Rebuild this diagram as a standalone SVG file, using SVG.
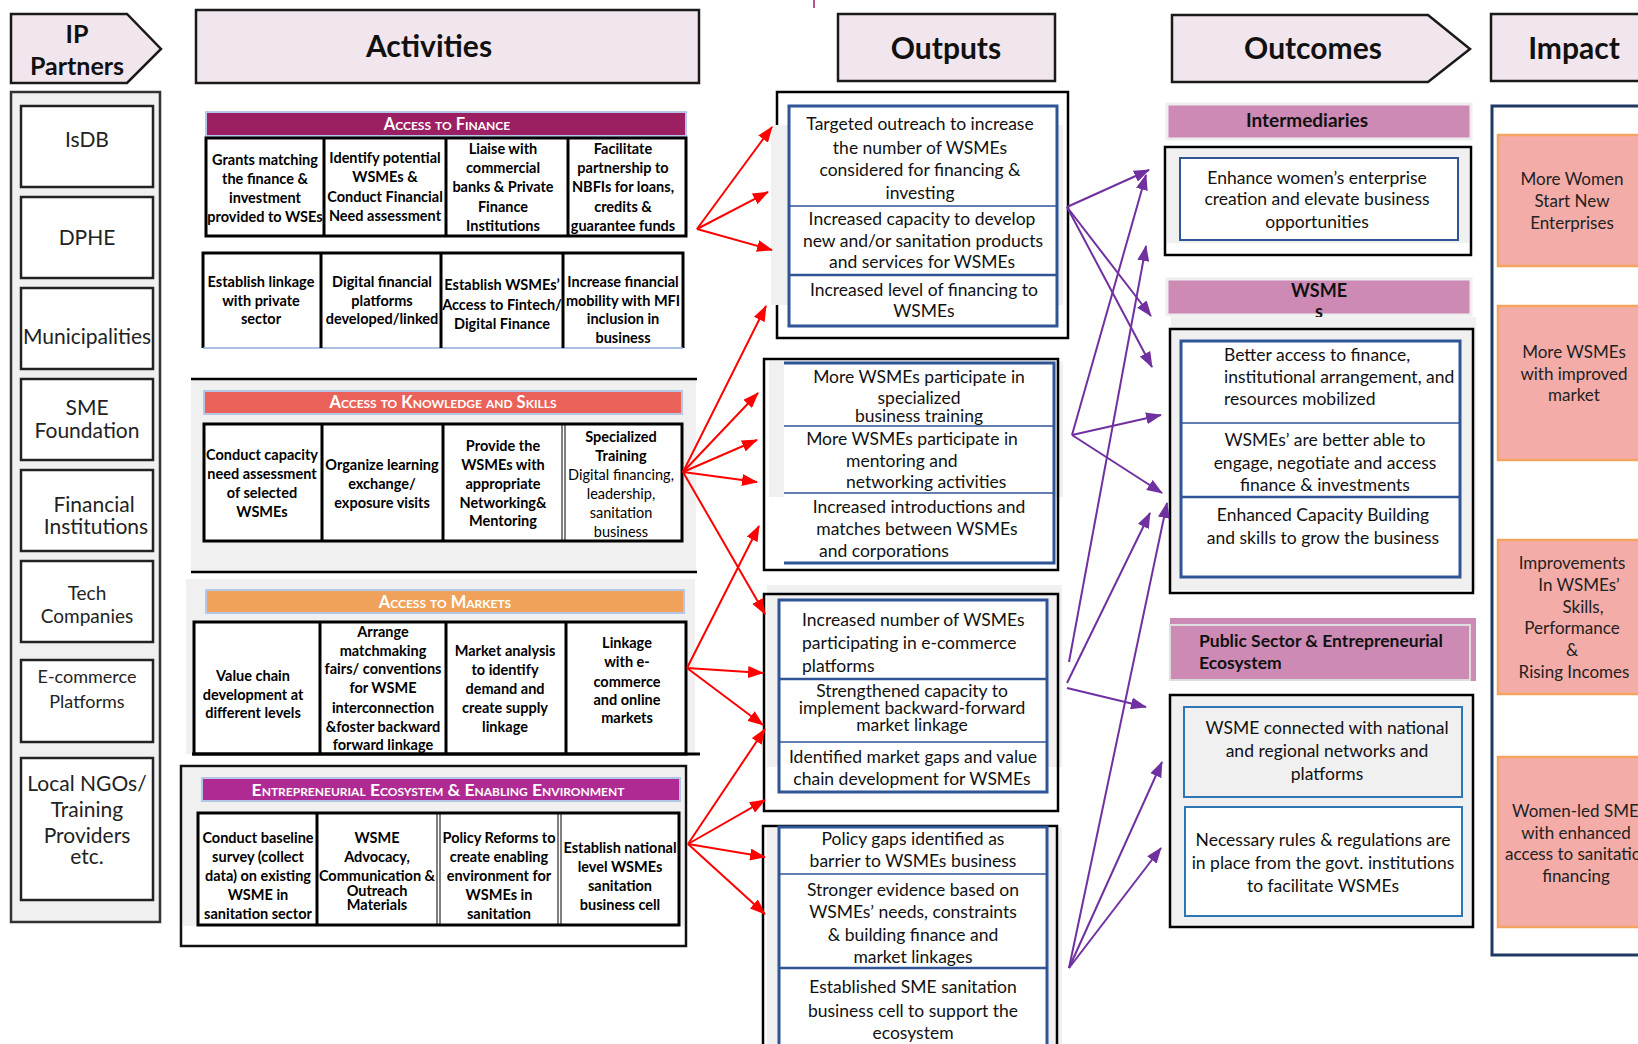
<svg xmlns="http://www.w3.org/2000/svg" width="1638" height="1044" viewBox="0 0 1638 1044">
<defs>
<marker id="ar" markerUnits="userSpaceOnUse" markerWidth="16" markerHeight="12" refX="15" refY="6" orient="auto"><path d="M0,0 L16,6 L0,12 z" fill="#FF0000"/></marker>
<marker id="ap" markerUnits="userSpaceOnUse" markerWidth="16" markerHeight="12" refX="15" refY="6" orient="auto"><path d="M0,0 L16,6 L0,12 z" fill="#7030A0"/></marker>
<style>
.hdr{fill:#F2E6EE;stroke:#1a1a1a;stroke-width:2.5}
.ht{font-family:Lato,"Liberation Sans",sans-serif;font-weight:bold;font-size:30px;fill:#111;text-anchor:middle}
.pbox{fill:#fff;stroke:#222;stroke-width:2.5}
.pt{font-family:Lato,"Liberation Sans",sans-serif;font-size:21px;fill:#222;text-anchor:middle}
.tbl{fill:#fff;stroke:#000;stroke-width:3}
.dv{stroke:#000;stroke-width:3}
.dd{stroke:#000;stroke-width:1}
.ct{font-family:Lato,"Liberation Sans",sans-serif;font-weight:bold;font-size:14.5px;fill:#000;text-anchor:middle}
.cr{font-weight:normal}
.bt{font-family:Lato,"Liberation Sans",sans-serif;font-weight:bold;font-size:16.5px;fill:#fff;text-anchor:middle;font-variant:small-caps}
.barb{stroke:#B4C7E7;stroke-width:2}
.gray{fill:#F0F0F0}
.blue{fill:#fff;stroke:#2F5597;stroke-width:3}
.bl{stroke:#2F5597;stroke-width:1.5}
.ot{font-family:Lato,"Liberation Sans",sans-serif;font-size:17.5px;fill:#111;text-anchor:middle}
.ol{text-anchor:start}
.obar{fill:#CC8AB4}
.obt{font-family:Lato,"Liberation Sans",sans-serif;font-weight:bold;font-size:18px;fill:#111;text-anchor:middle}
.imp{fill:#F4ACA8;stroke:#F4A460;stroke-width:2.5}
.it{font-family:Lato,"Liberation Sans",sans-serif;font-size:17px;fill:#222;text-anchor:middle}
.red{stroke:#FF0000;stroke-width:2;fill:none;marker-end:url(#ar)}
.pur{stroke:#7030A0;stroke-width:2;fill:none;marker-end:url(#ap)}
</style>
</defs>
<rect width="1638" height="1044" fill="#fff"/>
<line x1="814" y1="0" x2="814" y2="8" stroke="#9B1F62" stroke-width="1.5"/>

<!-- Column headers -->
<g id="hdr-ip">
<path class="hdr" d="M11,14 H127 L161,49 L127,83 H11 Z"/>
<text class="ht" style="font-size:25px" x="77" y="43">IP</text>
<text class="ht" style="font-size:25px" x="77" y="75">Partners</text>
</g>
<g id="hdr-activities">
<rect class="hdr" x="196" y="10" width="503" height="73"/>
<text class="ht" x="429" y="57">Activities</text>
</g>
<g id="hdr-outputs">
<rect class="hdr" x="838" y="14" width="217" height="67"/>
<text class="ht" x="946" y="59">Outputs</text>
</g>
<g id="hdr-outcomes">
<path class="hdr" d="M1172,15 H1428 L1470,49 L1428,82 H1172 Z"/>
<text class="ht" x="1313" y="59">Outcomes</text>
</g>
<g id="hdr-impact">
<rect class="hdr" x="1491" y="14" width="160" height="67"/>
<text class="ht" x="1574" y="59">Impact</text>
</g>

<!-- IP Partners -->
<g id="partners">
<rect x="11" y="92" width="149" height="830" fill="#F0F0F0" stroke="#333" stroke-width="2.5"/>
<g id="p-isdb"><rect class="pbox" x="21" y="106" width="132" height="81"/><text class="pt" x="87" y="147">IsDB</text></g>
<g id="p-dphe"><rect class="pbox" x="21" y="197" width="132" height="81"/><text class="pt" x="87" y="245">DPHE</text></g>
<g id="p-muni"><rect class="pbox" x="21" y="288" width="132" height="81"/><text class="pt" x="87" y="344">Municipalities</text></g>
<g id="p-sme"><rect class="pbox" x="21" y="379" width="132" height="81"/><text class="pt" x="87" y="415">SME</text><text class="pt" x="87" y="438">Foundation</text></g>
<g id="p-fin"><rect class="pbox" x="21" y="470" width="132" height="81"/><text class="pt" x="94" y="512">Financial</text><text class="pt" x="96" y="534">Institutions</text></g>
<g id="p-tech"><rect class="pbox" x="21" y="561" width="132" height="81"/><text class="pt" style="font-size:19px" x="87" y="600">Tech</text><text class="pt" style="font-size:19px" x="87" y="623">Companies</text></g>
<g id="p-ecom"><rect class="pbox" x="21" y="660" width="132" height="82"/><text class="pt" style="font-size:18px" x="87" y="683">E-commerce</text><text class="pt" style="font-size:18px" x="87" y="708">Platforms</text></g>
<g id="p-ngo"><rect class="pbox" x="21" y="758" width="132" height="142"/><text class="pt" x="87" y="791">Local NGOs/</text><text class="pt" x="87" y="817">Training</text><text class="pt" x="87" y="843">Providers</text><text class="pt" x="87" y="864">etc.</text></g>
</g>

<!-- Activities: Access to Finance -->
<g id="act-finance">
<rect x="206" y="112" width="480" height="24" fill="#9B1F62" class="barb"/>
<text class="bt" x="447" y="130">Access to Finance</text>
<rect class="tbl" x="206" y="138" width="480" height="98"/>
<line class="dv" x1="324" y1="138" x2="324" y2="236"/>
<line class="dv" x1="446" y1="138" x2="446" y2="236"/>
<line class="dv" x1="568" y1="138" x2="568" y2="236"/>
<text class="ct"><tspan x="265" y="165">Grants matching</tspan><tspan x="265" y="184">the finance &amp;</tspan><tspan x="265" y="203">investment</tspan><tspan x="265" y="222">provided to WSEs</tspan></text>
<text class="ct"><tspan x="385" y="163">Identify potential</tspan><tspan x="385" y="182">WSMEs &amp;</tspan><tspan x="385" y="202">Conduct Financial</tspan><tspan x="385" y="221">Need assessment</tspan></text>
<text class="ct"><tspan x="503" y="154">Liaise with</tspan><tspan x="503" y="173">commercial</tspan><tspan x="503" y="192">banks &amp; Private</tspan><tspan x="503" y="212">Finance</tspan><tspan x="503" y="231">Institutions</tspan></text>
<text class="ct"><tspan x="623" y="154">Facilitate</tspan><tspan x="623" y="173">partnership to</tspan><tspan x="623" y="192">NBFIs for loans,</tspan><tspan x="623" y="212">credits &amp;</tspan><tspan x="623" y="231">guarantee funds</tspan></text>
<rect x="203" y="253" width="480" height="95" fill="#fff"/>
<path d="M203,348 V253 H683 V348" fill="none" stroke="#000" stroke-width="3"/>
<line x1="203" y1="348" x2="683" y2="348" stroke="#8FAADC" stroke-width="1.5"/>
<line class="dv" x1="321" y1="253" x2="321" y2="348"/>
<line class="dv" x1="441" y1="253" x2="441" y2="348"/>
<line class="dv" x1="563" y1="253" x2="563" y2="348"/>
<text class="ct"><tspan x="261" y="287">Establish linkage</tspan><tspan x="261" y="306">with private</tspan><tspan x="261" y="324">sector</tspan></text>
<text class="ct"><tspan x="382" y="287">Digital financial</tspan><tspan x="382" y="306">platforms</tspan><tspan x="382" y="324">developed/linked</tspan></text>
<text class="ct"><tspan x="502" y="290">Establish WSMEs’</tspan><tspan x="502" y="310">Access to Fintech/</tspan><tspan x="502" y="329">Digital Finance</tspan></text>
<text class="ct"><tspan x="623" y="287">Increase financial</tspan><tspan x="623" y="306">mobility with MFI</tspan><tspan x="623" y="324">inclusion in</tspan><tspan x="623" y="343">business</tspan></text>
</g>

<!-- Activities: Knowledge -->
<g id="act-knowledge">
<rect class="gray" x="191" y="380" width="505" height="192"/>
<line x1="191" y1="379" x2="697" y2="379" stroke="#000" stroke-width="2.5"/>
<line x1="191" y1="572" x2="697" y2="572" stroke="#000" stroke-width="2.5"/>
<rect x="204" y="391" width="478" height="23" fill="#EA6259" class="barb"/>
<text class="bt" x="443" y="408">Access to Knowledge and Skills</text>
<rect class="tbl" x="204" y="424" width="478" height="117"/>
<line class="dv" x1="322" y1="424" x2="322" y2="541"/>
<line class="dv" x1="443" y1="424" x2="443" y2="541"/>
<line class="dd" x1="562" y1="424" x2="562" y2="541"/>
<line class="dd" x1="565" y1="424" x2="565" y2="541"/>
<text class="ct"><tspan x="262" y="460">Conduct capacity</tspan><tspan x="262" y="479">need assessment</tspan><tspan x="262" y="498">of selected</tspan><tspan x="262" y="517">WSMEs</tspan></text>
<text class="ct"><tspan x="382" y="470">Organize learning</tspan><tspan x="382" y="489">exchange/</tspan><tspan x="382" y="508">exposure visits</tspan></text>
<text class="ct"><tspan x="503" y="451">Provide the</tspan><tspan x="503" y="470">WSMEs with</tspan><tspan x="503" y="489">appropriate</tspan><tspan x="503" y="508">Networking&amp;</tspan><tspan x="503" y="526">Mentoring</tspan></text>
<text class="ct"><tspan x="621" y="442">Specialized</tspan><tspan x="621" y="461">Training</tspan><tspan class="cr" x="621" y="480">Digital financing,</tspan><tspan class="cr" x="621" y="499">leadership,</tspan><tspan class="cr" x="621" y="518">sanitation</tspan><tspan class="cr" x="621" y="537">business</tspan></text>
</g>

<!-- Activities: Markets -->
<g id="act-markets">
<rect class="gray" x="186" y="579" width="509" height="175"/>
<rect x="206" y="590" width="478" height="23" fill="#F0A25A" class="barb"/>
<text class="bt" x="445" y="608">Access to Markets</text>
<rect class="tbl" x="194" y="622" width="492" height="132"/>
<line x1="192" y1="754" x2="700" y2="754" stroke="#000" stroke-width="3"/>
<line class="dv" x1="320" y1="622" x2="320" y2="754"/>
<line class="dv" x1="446" y1="622" x2="446" y2="754"/>
<line class="dv" x1="566" y1="622" x2="566" y2="754"/>
<text class="ct"><tspan x="253" y="681">Value chain</tspan><tspan x="253" y="700">development at</tspan><tspan x="253" y="718">different levels</tspan></text>
<text class="ct"><tspan x="383" y="637">Arrange</tspan><tspan x="383" y="656">matchmaking</tspan><tspan x="383" y="674">fairs/ conventions</tspan><tspan x="383" y="693">for WSME</tspan><tspan x="383" y="713">interconnection</tspan><tspan x="383" y="732">&amp;foster backward</tspan><tspan x="383" y="750">forward linkage</tspan></text>
<text class="ct"><tspan x="505" y="656">Market analysis</tspan><tspan x="505" y="675">to identify</tspan><tspan x="505" y="694">demand and</tspan><tspan x="505" y="713">create supply</tspan><tspan x="505" y="732">linkage</tspan></text>
<text class="ct"><tspan x="627" y="648">Linkage</tspan><tspan x="627" y="667">with e-</tspan><tspan x="627" y="687">commerce</tspan><tspan x="627" y="705">and online</tspan><tspan x="627" y="723">markets</tspan></text>
</g>

<!-- Activities: Ecosystem -->
<g id="act-ecosystem">
<rect x="181" y="766" width="505" height="180" fill="#fff"/>
<rect class="gray" x="183" y="768" width="501" height="158"/>
<rect x="181" y="766" width="505" height="180" fill="none" stroke="#111" stroke-width="2.5"/>
<rect x="202" y="778" width="478" height="23" fill="#B02A93" class="barb"/>
<text class="bt" style="font-size:17.5px" x="438" y="796">Entrepreneurial Ecosystem &amp; Enabling Environment</text>
<rect class="tbl" x="198" y="813" width="481" height="112"/>
<line class="dv" x1="317" y1="813" x2="317" y2="925"/>
<line class="dd" x1="437" y1="813" x2="437" y2="925"/>
<line class="dd" x1="440" y1="813" x2="440" y2="925"/>
<line class="dd" x1="558" y1="813" x2="558" y2="925"/>
<line class="dd" x1="561" y1="813" x2="561" y2="925"/>
<text class="ct"><tspan x="258" y="843">Conduct baseline</tspan><tspan x="258" y="862">survey (collect</tspan><tspan x="258" y="881">data) on existing</tspan><tspan x="258" y="900">WSME in</tspan><tspan x="258" y="919">sanitation sector</tspan></text>
<text class="ct"><tspan x="377" y="843">WSME</tspan><tspan x="377" y="862">Advocacy,</tspan><tspan x="377" y="881">Communication &amp;</tspan><tspan x="377" y="896">Outreach</tspan><tspan x="377" y="910">Materials</tspan></text>
<text class="ct"><tspan x="499" y="843">Policy Reforms to</tspan><tspan x="499" y="862">create enabling</tspan><tspan x="499" y="881">environment for</tspan><tspan x="499" y="900">WSMEs in</tspan><tspan x="499" y="919">sanitation</tspan></text>
<text class="ct"><tspan x="620" y="853">Establish national</tspan><tspan x="620" y="872">level WSMEs</tspan><tspan x="620" y="891">sanitation</tspan><tspan x="620" y="910">business cell</tspan></text>
</g>

<!-- Outputs -->
<g id="out-finance">
<rect x="777" y="92" width="291" height="246" fill="#fff" stroke="#000" stroke-width="2.5"/>
<rect class="gray" x="771" y="125" width="292" height="180"/>
<rect class="blue" x="789" y="106" width="268" height="220"/>
<line class="bl" x1="789" y1="206" x2="1057" y2="206"/>
<line x1="789" y1="275" x2="1057" y2="275" stroke="#2F5597" stroke-width="2.5"/>
<text class="ot"><tspan x="920" y="130">Targeted outreach to increase</tspan><tspan x="920" y="154">the number of WSMEs</tspan><tspan x="920" y="176">considered for financing &amp;</tspan><tspan x="920" y="199">investing</tspan></text>
<text class="ot"><tspan x="922" y="225">Increased capacity to develop</tspan><tspan x="923" y="247">new and/or sanitation products</tspan><tspan x="922" y="268">and services for WSMEs</tspan></text>
<text class="ot"><tspan x="924" y="296">Increased level of financing to</tspan><tspan x="924" y="317">WSMEs</tspan></text>
</g>
<g id="out-knowledge">
<rect x="764" y="359" width="294" height="211" fill="#fff"/>
<rect class="gray" x="769" y="361" width="294" height="136"/>
<rect x="784" y="363" width="270" height="200" fill="#fff"/>
<rect x="764" y="359" width="294" height="211" fill="none" stroke="#000" stroke-width="2.5"/>
<path d="M784,363 H1054 V563 H784" fill="none" stroke="#2F5597" stroke-width="3"/>
<line class="bl" x1="784" y1="426" x2="1054" y2="426"/>
<line class="bl" x1="784" y1="493" x2="1054" y2="493"/>
<text class="ot"><tspan x="919" y="383">More WSMEs participate in</tspan><tspan x="919" y="404">specialized</tspan><tspan x="919" y="422">business training</tspan></text>
<text class="ot"><tspan x="912" y="445">More WSMEs participate in</tspan><tspan class="ol" x="846" y="467">mentoring and</tspan><tspan class="ol" x="846" y="488">networking activities</tspan></text>
<text class="ot"><tspan x="919" y="513">Increased introductions and</tspan><tspan x="917" y="535">matches between WSMEs</tspan><tspan class="ol" x="819" y="557">and corporations</tspan></text>
</g>
<g id="out-markets">
<rect class="gray" x="767" y="585" width="295" height="182"/>
<rect x="764" y="594" width="294" height="217" fill="none" stroke="#000" stroke-width="2.5"/>
<rect class="blue" x="779" y="600" width="268" height="192"/>
<line x1="779" y1="679" x2="1047" y2="679" stroke="#2F5597" stroke-width="2.5"/>
<line class="bl" x1="779" y1="742" x2="1047" y2="742"/>
<text class="ot"><tspan class="ol" x="802" y="626">Increased number of WSMEs</tspan><tspan class="ol" x="802" y="649">participating in e-commerce</tspan><tspan class="ol" x="802" y="672">platforms</tspan></text>
<text class="ot"><tspan x="912" y="697">Strengthened capacity to</tspan><tspan x="912" y="714">implement backward-forward</tspan><tspan x="912" y="731">market linkage</tspan></text>
<text class="ot"><tspan x="913" y="763">Identified market gaps and value</tspan><tspan x="912" y="785">chain development for WSMEs</tspan></text>
</g>
<g id="out-ecosystem">
<rect class="gray" x="767" y="828" width="295" height="220"/>
<rect x="763" y="826" width="294" height="230" fill="none" stroke="#000" stroke-width="2.5"/>
<rect class="blue" x="779" y="827" width="268" height="230"/>
<line class="bl" x1="779" y1="874" x2="1047" y2="874"/>
<line x1="779" y1="968" x2="1047" y2="968" stroke="#2F5597" stroke-width="2.5"/>
<text class="ot"><tspan x="913" y="845">Policy gaps identified as</tspan><tspan x="913" y="867">barrier to WSMEs business</tspan></text>
<text class="ot"><tspan x="913" y="896">Stronger evidence based on</tspan><tspan x="913" y="918">WSMEs’ needs, constraints</tspan><tspan x="913" y="941">&amp; building finance and</tspan><tspan x="913" y="963">market linkages</tspan></text>
<text class="ot"><tspan x="913" y="993">Established SME sanitation</tspan><tspan x="913" y="1017">business cell to support the</tspan><tspan x="913" y="1039">ecosystem</tspan></text>
</g>

<!-- Outcomes -->
<g id="oc-intermediaries">
<rect class="obar" x="1167" y="104" width="304" height="35" stroke="#EEE" stroke-width="3"/>
<text class="obt" style="font-size:19px" x="1307" y="127">Intermediaries</text>
<rect x="1165" y="147" width="306" height="108" fill="#fff"/>
<rect class="gray" x="1167" y="149" width="302" height="94"/>
<rect x="1165" y="147" width="306" height="108" fill="none" stroke="#000" stroke-width="2.5"/>
<rect x="1180" y="158" width="278" height="82" fill="#fff" stroke="#2F5597" stroke-width="2"/>
<text class="ot"><tspan x="1317" y="184">Enhance women’s enterprise</tspan><tspan x="1317" y="205">creation and elevate business</tspan><tspan x="1317" y="228">opportunities</tspan></text>
</g>
<g id="oc-wsmes">
<rect class="obar" x="1167" y="279" width="304" height="36" stroke="#EEE" stroke-width="3"/>
<text class="obt" x="1319" y="297">WSME</text>
<text class="obt" x="1319" y="318">s</text>
<rect class="gray" x="1171" y="317" width="305" height="273"/>
<rect x="1170" y="329" width="303" height="264" fill="none" stroke="#000" stroke-width="2.5"/>
<rect class="blue" x="1181" y="341" width="279" height="236"/>
<line class="bl" x1="1181" y1="423" x2="1460" y2="423"/>
<line x1="1181" y1="497" x2="1460" y2="497" stroke="#2F5597" stroke-width="2.5"/>
<text class="ot"><tspan class="ol" x="1224" y="361">Better access to finance,</tspan><tspan class="ol" x="1224" y="383">institutional arrangement, and</tspan><tspan class="ol" x="1224" y="405">resources mobilized</tspan></text>
<text class="ot"><tspan x="1325" y="446">WSMEs’ are better able to</tspan><tspan x="1325" y="469">engage, negotiate and access</tspan><tspan x="1325" y="491">finance &amp; investments</tspan></text>
<text class="ot"><tspan x="1323" y="521">Enhanced Capacity Building</tspan><tspan x="1323" y="544">and skills to grow the business</tspan></text>
</g>
<g id="oc-public">
<rect class="obar" x="1170" y="618" width="306" height="63"/>
<rect x="1170" y="625" width="300" height="55" fill="none" stroke="#DDD" stroke-width="2"/>
<text class="obt" style="text-anchor:start;font-size:17.5px" x="1199" y="647">Public Sector &amp; Entrepreneurial</text>
<text class="obt" style="text-anchor:start;font-size:17.5px" x="1199" y="669">Ecosystem</text>
<rect class="gray" x="1170" y="695" width="303" height="232"/>
<rect x="1170" y="695" width="303" height="232" fill="none" stroke="#000" stroke-width="2.5"/>
<rect x="1184" y="707" width="278" height="90" fill="#F0F0F0" stroke="#2E75B6" stroke-width="2"/>
<text class="ot"><tspan x="1327" y="734">WSME connected with national</tspan><tspan x="1327" y="757">and regional networks and</tspan><tspan x="1327" y="780">platforms</tspan></text>
<rect x="1185" y="807" width="277" height="109" fill="#fff" stroke="#2E75B6" stroke-width="2"/>
<text class="ot"><tspan x="1323" y="846">Necessary rules &amp; regulations are</tspan><tspan x="1323" y="869">in place from the govt. institutions</tspan><tspan x="1323" y="892">to facilitate WSMEs</tspan></text>
</g>

<!-- Impact -->
<g id="impact">
<rect x="1492" y="106" width="170" height="849" fill="#fff" stroke="#1F3864" stroke-width="3"/>
<g id="im-1"><rect class="imp" x="1498" y="135" width="160" height="131"/><text class="it"><tspan x="1572" y="185">More Women</tspan><tspan x="1572" y="207">Start New</tspan><tspan x="1572" y="229">Enterprises</tspan></text></g>
<g id="im-2"><rect class="imp" x="1498" y="306" width="160" height="154"/><text class="it"><tspan x="1574" y="358">More WSMEs</tspan><tspan x="1574" y="380">with improved</tspan><tspan x="1574" y="401">market</tspan></text></g>
<g id="im-3"><rect class="imp" x="1498" y="540" width="160" height="154"/><text class="it"><tspan x="1572" y="569">Improvements</tspan><tspan x="1579" y="591">In WSMEs’</tspan><tspan x="1583" y="613">Skills,</tspan><tspan x="1572" y="634">Performance</tspan><tspan x="1572" y="656">&amp;</tspan><tspan x="1574" y="678">Rising Incomes</tspan></text></g>
<g id="im-4"><rect class="imp" x="1498" y="757" width="160" height="170"/><text class="it"><tspan style="text-anchor:start" x="1512" y="817">Women-led SMEs</tspan><tspan x="1576" y="839">with enhanced</tspan><tspan style="text-anchor:start" x="1505" y="860">access to sanitation</tspan><tspan x="1576" y="882">financing</tspan></text></g>
</g>

<!-- Connectors -->
<g id="connectors">
<line class="red" x1="697" y1="229" x2="772" y2="127"/>
<line class="red" x1="697" y1="229" x2="768" y2="192"/>
<line class="red" x1="697" y1="229" x2="772" y2="250"/>
<line class="red" x1="683" y1="472" x2="766" y2="306"/>
<line class="red" x1="683" y1="472" x2="758" y2="393"/>
<line class="red" x1="683" y1="472" x2="757" y2="440"/>
<line class="red" x1="683" y1="472" x2="757" y2="482"/>
<line class="red" x1="683" y1="472" x2="765" y2="614"/>
<line class="red" x1="687" y1="668" x2="759" y2="526"/>
<line class="red" x1="687" y1="668" x2="763" y2="673"/>
<line class="red" x1="687" y1="668" x2="763" y2="725"/>
<line class="red" x1="688" y1="844" x2="765" y2="729"/>
<line class="red" x1="688" y1="844" x2="765" y2="800"/>
<line class="red" x1="688" y1="844" x2="765" y2="857"/>
<line class="red" x1="688" y1="844" x2="765" y2="914"/>
<line class="pur" x1="1067" y1="207" x2="1149" y2="170"/>
<line class="pur" x1="1067" y1="207" x2="1151" y2="316"/>
<line class="pur" x1="1067" y1="207" x2="1152" y2="367"/>
<line class="pur" x1="1072" y1="435" x2="1146" y2="175"/>
<line class="pur" x1="1072" y1="435" x2="1161" y2="415"/>
<line class="pur" x1="1072" y1="435" x2="1162" y2="493"/>
<line class="pur" x1="1069" y1="662" x2="1146" y2="246"/>
<line class="pur" x1="1067" y1="688" x2="1146" y2="707"/>
<line class="pur" x1="1067" y1="683" x2="1150" y2="513"/>
<line class="pur" x1="1069" y1="968" x2="1167" y2="503"/>
<line class="pur" x1="1069" y1="968" x2="1162" y2="762"/>
<line class="pur" x1="1069" y1="968" x2="1161" y2="848"/>
</g>
</svg>
